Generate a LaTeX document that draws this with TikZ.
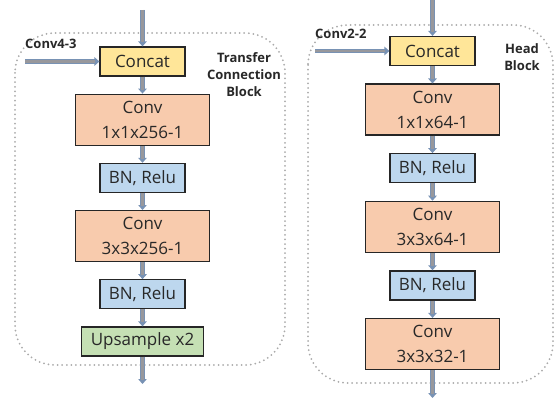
\documentclass[tikz,border=0pt]{standalone}
\usepackage{fontspec}
\setmainfont{Open Sans}
\usetikzlibrary{arrows.meta, positioning}
\definecolor{concatfill}{HTML}{FFE699}
\definecolor{convfill}{HTML}{F8CBAD}
\definecolor{bnfill}{HTML}{BDD7EE}
\definecolor{upfill}{HTML}{C5E0B4}
\definecolor{arrowgray}{RGB}{152,152,156}
\definecolor{arrowedge}{RGB}{120,146,180}
\definecolor{dotgray}{RGB}{170,170,170}
\definecolor{textgray}{RGB}{40,40,40}
\begin{document}
\begin{tikzpicture}[x=1pt, y=-1pt, node distance=17pt,
            base-block/.style={rectangle, draw=black!85, line width=1.2pt, inner sep=0pt, align=center,
                text=textgray, font=\fontsize{17}{25}\selectfont},
            concat-block/.style={base-block, fill=concatfill, minimum width=85pt, minimum height=29pt},
            conv-block/.style={base-block, fill=convfill, minimum width=134pt, minimum height=51pt},
            bn-block/.style={base-block, fill=bnfill, minimum width=85pt, minimum height=29pt},
            up-block/.style={base-block, fill=upfill, minimum width=122pt, minimum height=29pt},
            arrow/.style={line width=4.2pt, draw=arrowedge, -{Triangle[length=5pt, width=8.5pt]},
                postaction={draw=arrowgray, line width=2.6pt, -, shorten >=4pt}},
            group/.style={draw=dotgray, line width=2pt, dash pattern=on 0pt off 4.6pt, line cap=round, rounded corners=40pt},
            tag/.style={font=\bfseries\fontsize{13}{17}\selectfont, text=textgray, align=center, inner sep=0pt}
        ]
        \useasboundingbox (0,0) rectangle (555,404);

        % Dotted groups
        \draw[group] (15,33) rectangle (285,365);
        \draw[group] (308,25) rectangle (553,383);

        % Transfer connection block
        \node[concat-block] (tcbConcat) at (142.5,61.5) {Concat};
        \node[conv-block, below=of tcbConcat] (tcbConv1) {Conv\\1x1x256-1};
        \node[bn-block, below=of tcbConv1] (tcbBn1) {BN, Relu};
        \node[conv-block, below=of tcbBn1] (tcbConv2) {Conv\\3x3x256-1};
        \node[bn-block, below=of tcbConv2] (tcbBn2) {BN, Relu};
        \node[up-block, below=of tcbBn2] (tcbUp) {Upsample x2};

        \coordinate (tcbIn) at (142.5,10);
        \coordinate (tcbSide) at (25,61.5);
        \coordinate (tcbOut) at (142.5,384);
        \node[tag, anchor=south west] (tcbSideLabel) at (25,49) {Conv4-3};
        \node[tag] (tcbLabel) at (244,75) {Transfer\\Connection\\Block};

        % Head block
        \node[concat-block] (headConcat) at (432.5,51) {Concat};
        \node[conv-block, below=17.4pt of headConcat] (headConv1) {Conv\\1x1x64-1};
        \node[bn-block, below=17.4pt of headConv1] (headBn1) {BN, Relu};
        \node[conv-block, below=17.4pt of headBn1] (headConv2) {Conv\\3x3x64-1};
        \node[bn-block, below=17.4pt of headConv2] (headBn2) {BN, Relu};
        \node[conv-block, below=17.4pt of headBn2] (headConv3) {Conv\\3x3x32-1};

        \coordinate (headIn) at (432.5,0);
        \coordinate (headSide) at (315,51);
        \coordinate (headOut) at (432.5,398);
        \node[tag, anchor=south west] (headSideLabel) at (315,39) {Conv2-2};
        \node[tag] (headLabel) at (522,57) {Head\\Block};

        % Arrows
        \draw[arrow] (tcbIn) -- (tcbConcat);
        \draw[arrow] (tcbSide) -- (tcbConcat);
        \draw[arrow] (tcbConcat) -- (tcbConv1);
        \draw[arrow] (tcbConv1) -- (tcbBn1);
        \draw[arrow] (tcbBn1) -- (tcbConv2);
        \draw[arrow] (tcbConv2) -- (tcbBn2);
        \draw[arrow] (tcbBn2) -- (tcbUp);
        \draw[arrow] (tcbUp) -- (tcbOut);

        \draw[arrow] (headIn) -- (headConcat);
        \draw[arrow] (headSide) -- (headConcat);
        \draw[arrow] (headConcat) -- (headConv1);
        \draw[arrow] (headConv1) -- (headBn1);
        \draw[arrow] (headBn1) -- (headConv2);
        \draw[arrow] (headConv2) -- (headBn2);
        \draw[arrow] (headBn2) -- (headConv3);
        \draw[arrow] (headConv3) -- (headOut);

    \end{tikzpicture}
\end{document}
